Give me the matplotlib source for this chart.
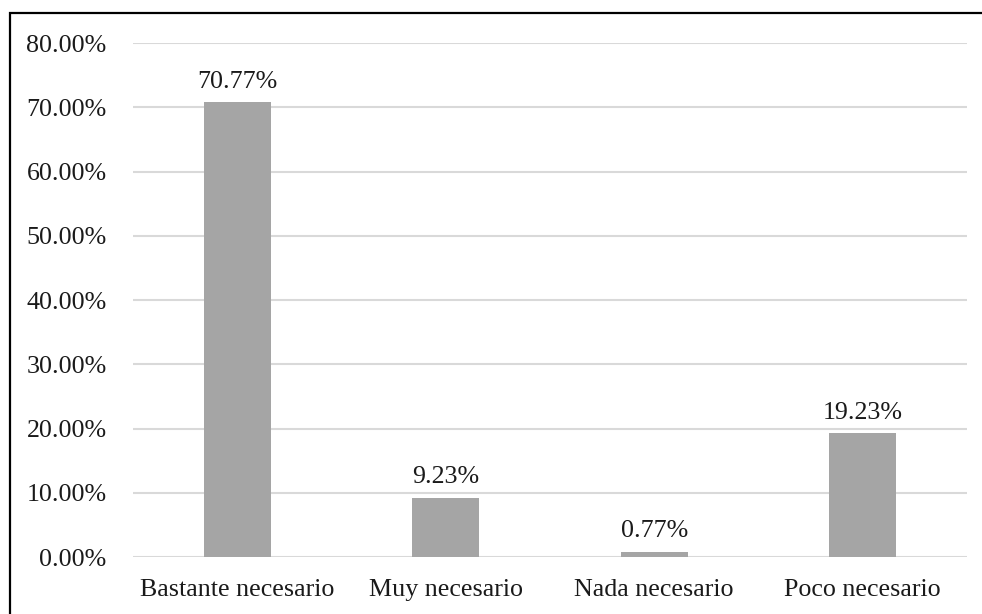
import matplotlib.pyplot as plt
from matplotlib.patches import Rectangle
from matplotlib.ticker import FuncFormatter

categories = ["Bastante necesario", "Muy necesario", "Nada necesario", "Poco necesario"]
values = [70.77, 9.23, 0.77, 19.23]
y_ticks = [0, 10, 20, 30, 40, 50, 60, 70, 80]

plt.rcParams['font.family'] = ['Liberation Serif', 'DejaVu Serif']
FS = 18.7

fig = plt.figure(figsize=(9.82, 6.14), dpi=100)
ax = fig.add_axes([0.1354, 0.0928, 0.8493, 0.837])

x = range(len(categories))
bars = ax.bar(x, values, width=0.32, color="#a5a5a5", zorder=3)
for b, v in zip(bars, values):
    ax.annotate(f"{v:.2f}%", (b.get_x() + b.get_width() / 2, v),
                xytext=(0, 10.5), textcoords="offset points",
                ha="center", va="baseline", fontsize=FS, color="#1a1a1a")

ax.set_xlim(-0.5, len(categories) - 0.5)
ax.set_ylim(0, 80)
ax.set_yticks(y_ticks)
ax.yaxis.set_major_formatter(FuncFormatter(lambda v, p: f"{v:.2f}%"))
ax.set_xticks(list(x))
ax.set_xticklabels(categories)
ax.tick_params(axis="both", length=0, labelsize=FS, colors="#1a1a1a")
ax.tick_params(axis="y", pad=19)
ax.tick_params(axis="x", pad=16)
ax.grid(axis="y", color="#d9d9d9", linewidth=1.5, zorder=0)
for s in ax.spines.values():
    s.set_visible(False)

# outer frame around the chart
fig.patches.append(Rectangle((9.5 / 982, -0.05), 1.1, 1 - 13 / 614 + 0.05,
                             transform=fig.transFigure, fill=False,
                             edgecolor="black", linewidth=1.6))

fig.savefig("out.png", dpi=100)
